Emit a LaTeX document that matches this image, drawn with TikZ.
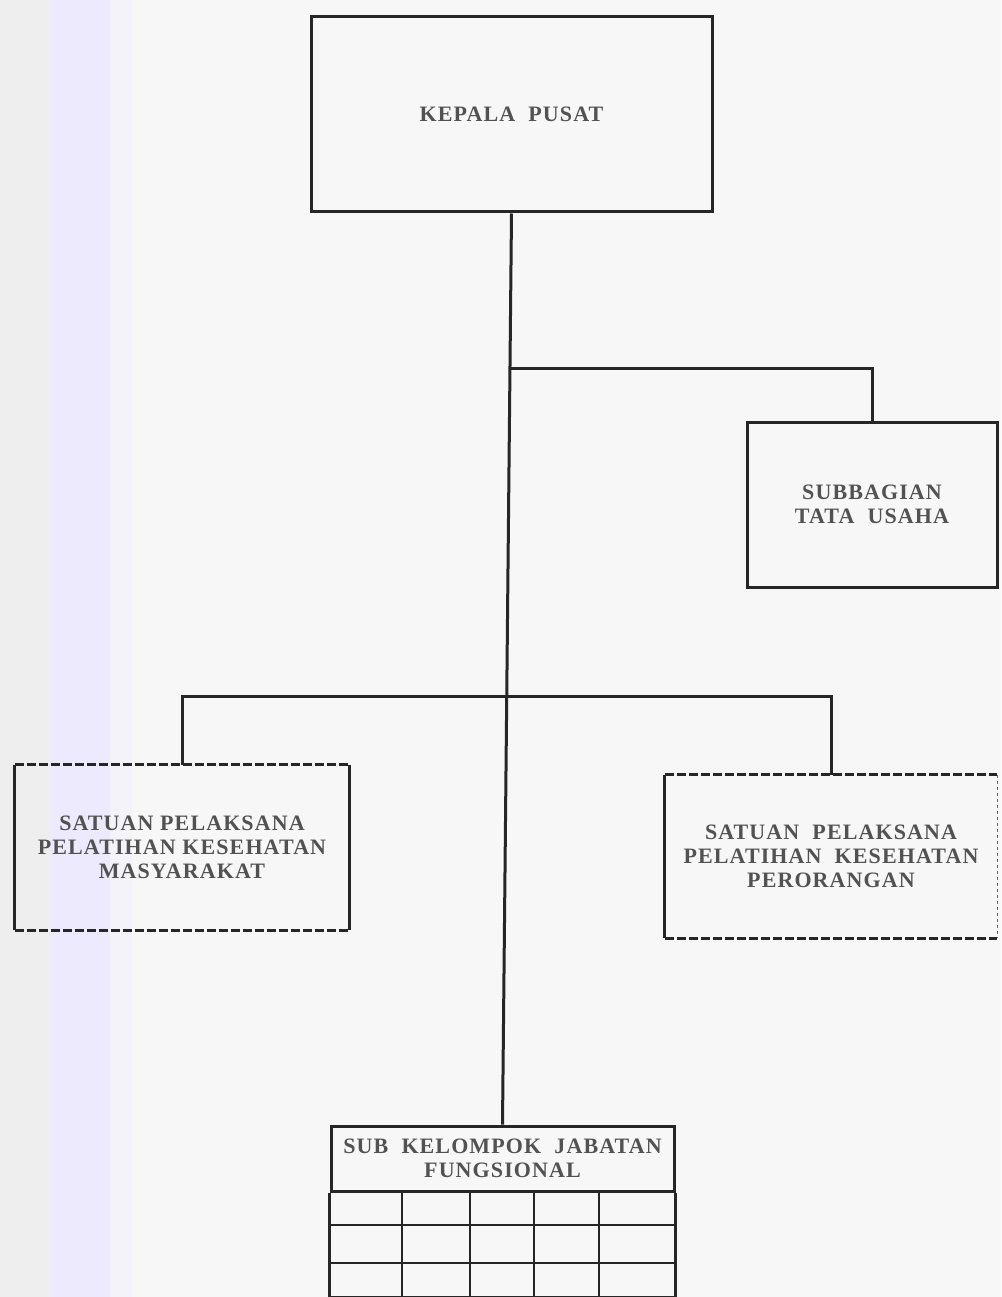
\documentclass[tikz,border=0pt]{standalone}
\usepackage{fontspec}
\setmainfont{Liberation Serif}[LetterSpace=5]
\begin{document}
\begin{tikzpicture}[x=1pt,y=-1pt,
  line/.style={draw=black!85,line width=3pt},
  lbl/.style={text=black!68,font=\fontsize{22}{24}\selectfont\bfseries,align=center,inner sep=0pt},
  solidbox/.style={draw=black!85,line width=3pt,lbl},
  dashbox/.style={lbl},
  cell/.style={draw=black!85,line width=2.8pt}]
\definecolor{bgc}{HTML}{F7F7F7}
\definecolor{bandA}{HTML}{EEEEEE}
\definecolor{bandB}{HTML}{ECEAFC}
\definecolor{bandC}{HTML}{F4F3FA}
\useasboundingbox (0,0) rectangle (1001,1297);
\fill[bgc] (0,0) rectangle (1001,1297);
\fill[bandA] (0,0) rectangle (50,1297);
\fill[bandB] (50,0) rectangle (110,1297);
\fill[bandC] (110,0) rectangle (132,1297);

\node[solidbox,minimum width=401pt,minimum height=195pt] (top) at (511.5,114.5) {KEPALA\ \ PUSAT};
\node[solidbox,minimum width=250pt,minimum height=165pt] (sub) at (872,504.5) {SUBBAGIAN\\TATA\ \ USAHA};
\node[dashbox,minimum width=334pt,minimum height=165pt] (left) at (182,847.5) {SATUAN PELAKSANA\\PELATIHAN KESEHATAN\\MASYARAKAT};
\node[dashbox,minimum width=332pt,minimum height=163pt] (right) at (831,856.5) {SATUAN\ \ PELAKSANA\\PELATIHAN\ \ KESEHATAN\\PERORANGAN};
\node[solidbox,minimum width=343pt,minimum height=65pt] (table) at (502.5,1158.5) {SUB\ \ KELOMPOK\ \ JABATAN\\FUNGSIONAL};

% dashed box outlines
\draw[black!85,line width=2.8pt] (left.north west) -- (left.south west);
\draw[black!85,line width=2.8pt] (left.north east) -- (left.south east);
\draw[black!85,line width=3pt,dash pattern=on 9pt off 3pt] (left.north west) -- (left.north east);
\draw[black!85,line width=3pt,dash pattern=on 9pt off 3pt] (left.south west) -- (left.south east);
\draw[black!85,line width=2.8pt] (right.north west) -- (right.south west);
\draw[black!60,line width=1.4pt,dash pattern=on 3pt off 3pt] (right.north east) -- (right.south east);
\draw[black!85,line width=3pt,dash pattern=on 9pt off 3pt] (right.north west) -- (right.north east);
\draw[black!85,line width=3pt,dash pattern=on 9pt off 3pt] (right.south west) -- (right.south east);

% table grid below title
\begin{scope}
\clip (0,0) rectangle (1001,1297);
\draw[cell] (table.south west) -- ++(0,120);
\draw[cell] (table.south east) -- ++(0,120);
\foreach \x in {402,470,534,599} \draw[cell] (\x,1191) -- (\x,1310);
\foreach \y in {1225,1263} \draw[cell] (331,\y) -- (674,\y);
\draw[cell] (331,1297) -- (674,1297);
\end{scope}

% connectors
\draw[line] (top.south) -- (table.north);
\coordinate (j1) at (510,368);
\draw[line] (j1) -| (sub.north);
\coordinate (hbar) at (508,696);
\draw[line] (left.north) |- (hbar) -| (right.north);
\end{tikzpicture}
\end{document}
